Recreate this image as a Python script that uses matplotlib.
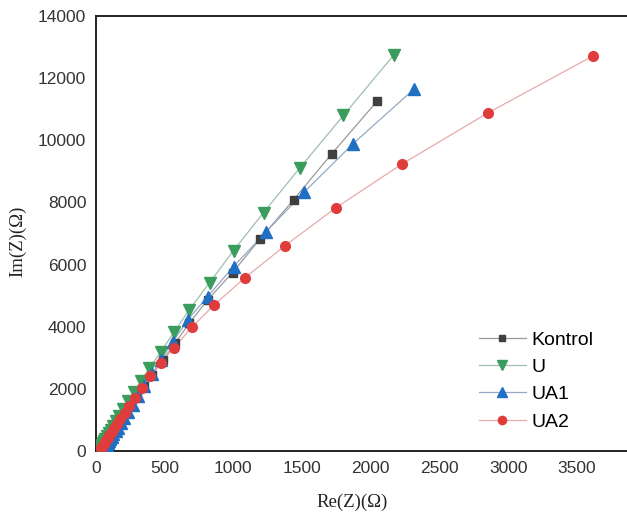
import matplotlib
matplotlib.use("Agg")
import matplotlib.pyplot as plt

# Nyquist data: real and imaginary impedance (Ohm)
kontrol_re = [2049, 1716, 1438, 1195, 994, 812, 679, 575, 485, 410, 350, 300, 258, 222,
              192, 167, 146, 128, 113, 100, 89, 80, 72, 65, 59, 54, 50]
kontrol_im = [11272, 9565, 8084, 6828, 5742, 4863, 4113, 3470, 2920, 2460, 2080, 1750, 1480, 1250,
              1050, 890, 750, 630, 530, 445, 370, 305, 250, 200, 155, 115, 80]

u_re = [2169, 1801, 1486, 1220, 1001, 827, 679, 570, 473, 388, 325, 275, 234, 200,
        170, 146, 125, 108, 93, 80, 68, 58, 50, 42, 35, 29, 24]
u_im = [12754, 10799, 9124, 7675, 6451, 5420, 4541, 3842, 3198, 2663, 2250, 1900, 1600, 1350,
        1140, 960, 810, 680, 570, 470, 390, 320, 260, 200, 150, 100, 60]

ua1_re = [2315, 1871, 1515, 1236, 1001, 812, 667, 560, 472, 405, 350, 305, 266, 233,
          205, 181, 160, 142, 127, 114, 103, 93, 85, 78, 72, 67, 63]
ua1_im = [11649, 9887, 8332, 7043, 5936, 4970, 4219, 3520, 2931, 2470, 2090, 1760, 1490, 1260,
          1060, 895, 755, 635, 535, 450, 375, 310, 255, 205, 160, 120, 85]

ua2_re = [3620, 2851, 2230, 1745, 1377, 1086, 860, 697, 570, 470, 395, 335, 285, 243,
          208, 178, 153, 132, 114, 98, 85, 74, 64, 56, 49, 43, 38]
ua2_im = [12721, 10876, 9243, 7826, 6612, 5581, 4702, 3980, 3330, 2830, 2400, 2030, 1720, 1450,
          1220, 1030, 870, 730, 615, 515, 430, 355, 290, 235, 185, 140, 100]

labels = ["Kontrol", "U", "UA1", "UA2"]
x_ticks = [0, 500, 1000, 1500, 2000, 2500, 3000, 3500]
y_ticks = [0, 2000, 4000, 6000, 8000, 10000, 12000, 14000]

W, H = 627, 514
fig = plt.figure(figsize=(W / 100, H / 100), dpi=100)
ax = fig.add_axes([96 / W, 1 - 451 / H, 1 - 96 / W, (451 - 16) / H])

series = [
    (kontrol_re, kontrol_im, "s", "#404040", "#9a9a9a", 5.8),
    (u_re, u_im, "v", "#3a9d5d", "#9fbfae", 8.5),
    (ua1_re, ua1_im, "^", "#1f6fc5", "#93a9c4", 8.5),
    (ua2_re, ua2_im, "o", "#e03c3c", "#e9a9a9", 7.0),
]
handles = []
for (xs, ys, mk, mc, lc, ms), lab in zip(series, labels):
    ax.plot(xs, ys, color=lc, lw=0.9, zorder=2)
    ax.plot(xs, ys, ls="none", marker=mk, ms=ms, mfc=mc, mec=mc, zorder=3)
    h, = ax.plot([], [], color=lc, lw=0.9, marker=mk, ms=ms * 0.85, mfc=mc, mec=mc, label=lab)
    handles.append(h)

ax.set_xlim(0, (W - 95) / (481.7 / 3500))
ax.set_ylim(0, 14000)
ax.set_xticks(x_ticks)
ax.set_yticks(y_ticks)
ax.tick_params(length=0, pad=7, labelsize=12.5, labelcolor="#333333")
for lbl in ax.get_xticklabels() + ax.get_yticklabels():
    lbl.set_fontfamily("Liberation Sans")
ax.spines["right"].set_visible(False)
for s in ["left", "bottom", "top"]:
    ax.spines[s].set_linewidth(1.4)
    ax.spines[s].set_color("#222222")

ax.legend(handles=handles, loc="upper left", bbox_to_anchor=(479 / W, 1 - 331 / H),
          bbox_transform=fig.transFigure, borderaxespad=0, borderpad=0,
          frameon=False, prop={"family": "Liberation Sans", "size": 14},
          handlelength=2.4, handletextpad=0.3, labelspacing=0.5)

fig.text(352 / W, 1 - 502 / H, "Re(Z)(Ω)", family="Liberation Serif", fontsize=13.5,
         ha="center", va="center", color="#222222")
fig.text(18 / W, 1 - 241 / H, "Im(Z)(Ω)", family="Liberation Serif", fontsize=13.5,
         ha="center", va="center", rotation=90, color="#222222")

fig.savefig("out.png", dpi=100)
